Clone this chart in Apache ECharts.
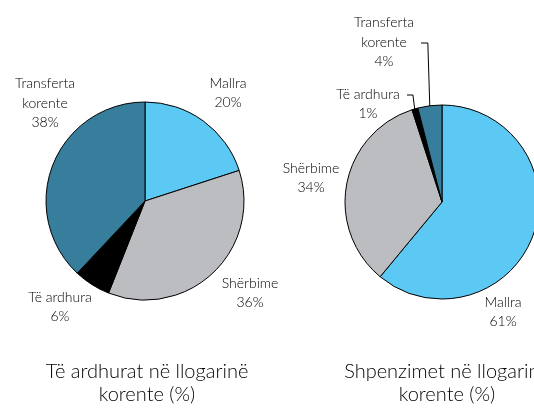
<!DOCTYPE html>
<html>
<head>
<meta charset="utf-8">
<script src="https://cdn.jsdelivr.net/npm/echarts@6/dist/echarts.min.js"></script>
<style>
  html, body { margin: 0; padding: 0; background: #fff; }
  #chart { width: 534px; height: 410px; }
</style>
</head>
<body>
<div id="chart"></div>
<script>
// kategorite, ne rendin e orës nga lart
var categories = ['Mallra', 'Shërbime', 'Të ardhura', 'Transferta korente'];
var labelNames = ['Mallra', 'Shërbime', 'Të ardhura', 'Transferta\nkorente'];
var incomeValues = [20, 36, 6, 38];
var expenseValues = [61, 34, 1, 4];
var titles = ['Të ardhurat në llogarinë\nkorente (%)', 'Shpenzimet në llogarinë\nkorente (%)'];

var colors = ['#5bc9f3', '#bcbdc0', '#000000', '#367e9c'];
var font = 'Lato, "Noto Sans", sans-serif';

function buildData(values) {
  return values.map(function (v, i) {
    return { name: categories[i], value: v, itemStyle: { color: colors[i] } };
  });
}

// pos: qendra e tekstit per cdo etikete; lines: cilat etiketa kane vije (dx e fillimit)
function pieSeries(values, center, radius, pos, lines) {
  lines = lines || {};
  var data = buildData(values);
  Object.keys(lines).forEach(function (k) {
    data[k].labelLine = { show: true, lineStyle: { color: '#000', width: 1 } };
  });
  return {
    type: 'pie',
    center: center,
    radius: radius,
    startAngle: 90,
    clockwise: true,
    avoidLabelOverlap: false,
    animation: false,
    itemStyle: { borderColor: '#000', borderWidth: 1 },
    label: {
      show: true,
      position: 'outside',
      formatter: function (p) { return labelNames[p.dataIndex] + '\n' + p.value + '%'; },
      color: '#000',
      fontFamily: font,
      fontWeight: 300,
      fontSize: 14,
      lineHeight: 19.5,
      align: 'center'
    },
    labelLine: { show: false, length: 8, length2: 8 },
    labelLayout: function (p) {
      var xy = pos[p.dataIndex];
      var out = { x: xy[0], y: xy[1], align: 'center', verticalAlign: 'middle' };
      var l = lines[p.dataIndex];
      if (l && p.labelLinePoints) {
        var a = p.labelLinePoints[0];
        var ly = xy[1] + l[1];
        out.labelLinePoints = [[xy[0] + l[0], ly], [a[0] - 2, ly], [a[0], a[1] + 2]];
      }
      return out;
    },
    emphasis: { disabled: true },
    data: data
  };
}

var chart = echarts.init(document.getElementById('chart'), null, { renderer: 'canvas' });

var titleStyle = { fontFamily: font, fontWeight: 300, fontSize: 20, lineHeight: 23, color: '#000' };

chart.setOption({
  backgroundColor: '#fff',
  title: [
    { text: titles[0], left: 142, top: 355, textAlign: 'center', textStyle: titleStyle },
    { text: titles[1], left: 442, top: 355, textAlign: 'center', textStyle: titleStyle }
  ],
  series: [
    pieSeries(incomeValues, [145, 201], 99, [[228, 93], [250, 293], [60, 307], [45, 103]]),
    pieSeries(expenseValues, [442, 202], 97, [[503, 312], [311, 178], [368, 104], [384, 42]],
      { 2: [39, -9], 3: [37, 1] })
  ]
});
</script>
</body>
</html>
